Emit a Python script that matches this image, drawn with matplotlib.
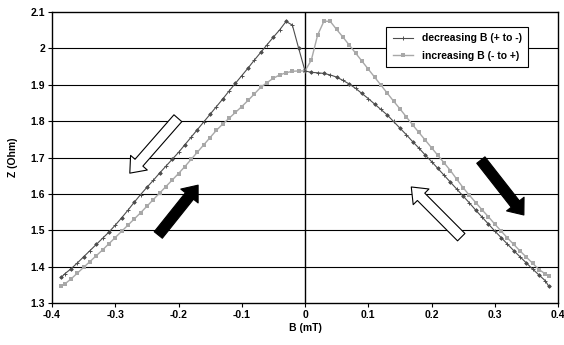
import matplotlib
matplotlib.use("Agg")
import matplotlib.pyplot as plt

plt.rcParams['font.family'] = ['Liberation Sans', 'DejaVu Sans']
plt.rcParams['font.weight'] = 'bold'

# decreasing B (+ to -) : field values and impedance
b_dec = [0.385, 0.38, 0.37, 0.36, 0.35, 0.34, 0.33, 0.32, 0.31, 0.30,
         0.29, 0.28, 0.27, 0.26, 0.25, 0.24, 0.23, 0.22, 0.21, 0.20,
         0.19, 0.18, 0.17, 0.16, 0.15, 0.14, 0.13, 0.12, 0.11, 0.10,
         0.09, 0.08, 0.07, 0.06, 0.05, 0.04, 0.03, 0.02, 0.01, 0.00,
         -0.01, -0.02, -0.03, -0.04, -0.05, -0.06, -0.07, -0.08, -0.09, -0.10,
         -0.11, -0.12, -0.13, -0.14, -0.15, -0.16, -0.17, -0.18, -0.19, -0.20,
         -0.21, -0.22, -0.23, -0.24, -0.25, -0.26, -0.27, -0.28, -0.29, -0.30,
         -0.31, -0.32, -0.33, -0.34, -0.35, -0.36, -0.37, -0.38, -0.385]
z_dec = [1.347, 1.361, 1.377, 1.393, 1.410, 1.427, 1.444, 1.462, 1.480, 1.498,
         1.517, 1.536, 1.555, 1.575, 1.594, 1.613, 1.632, 1.651, 1.670, 1.689,
         1.707, 1.726, 1.744, 1.763, 1.781, 1.799, 1.817, 1.832, 1.847, 1.862,
         1.876, 1.890, 1.902, 1.912, 1.921, 1.927, 1.931, 1.933, 1.934, 1.938,
         2.000, 2.064, 2.074, 2.051, 2.031, 2.010, 1.989, 1.968, 1.946, 1.925,
         1.904, 1.883, 1.861, 1.840, 1.819, 1.798, 1.777, 1.756, 1.735, 1.714,
         1.695, 1.676, 1.657, 1.637, 1.618, 1.598, 1.577, 1.555, 1.534, 1.514,
         1.495, 1.478, 1.461, 1.444, 1.427, 1.410, 1.394, 1.380, 1.371]

# increasing B (- to +)
b_inc = [-0.385, -0.38, -0.37, -0.36, -0.35, -0.34, -0.33, -0.32, -0.31, -0.30,
         -0.29, -0.28, -0.27, -0.26, -0.25, -0.24, -0.23, -0.22, -0.21, -0.20,
         -0.19, -0.18, -0.17, -0.16, -0.15, -0.14, -0.13, -0.12, -0.11, -0.10,
         -0.09, -0.08, -0.07, -0.06, -0.05, -0.04, -0.03, -0.02, -0.01, 0.00,
         0.01, 0.02, 0.03, 0.04, 0.05, 0.06, 0.07, 0.08, 0.09, 0.10,
         0.11, 0.12, 0.13, 0.14, 0.15, 0.16, 0.17, 0.18, 0.19, 0.20,
         0.21, 0.22, 0.23, 0.24, 0.25, 0.26, 0.27, 0.28, 0.29, 0.30,
         0.31, 0.32, 0.33, 0.34, 0.35, 0.36, 0.37, 0.38, 0.385]
z_inc = [1.347, 1.352, 1.366, 1.382, 1.398, 1.414, 1.430, 1.446, 1.463, 1.480,
         1.497, 1.514, 1.531, 1.548, 1.566, 1.584, 1.602, 1.620, 1.638, 1.656,
         1.675, 1.695, 1.715, 1.735, 1.755, 1.775, 1.792, 1.808, 1.824, 1.840,
         1.857, 1.875, 1.893, 1.906, 1.918, 1.927, 1.933, 1.937, 1.938, 1.938,
         1.968, 2.037, 2.075, 2.074, 2.052, 2.031, 2.009, 1.987, 1.965, 1.943,
         1.921, 1.899, 1.877, 1.855, 1.834, 1.812, 1.790, 1.769, 1.748, 1.727,
         1.706, 1.685, 1.664, 1.640, 1.617, 1.596, 1.576, 1.556, 1.537, 1.517,
         1.498, 1.479, 1.461, 1.443, 1.426, 1.409, 1.392, 1.380, 1.374]

x_ticks = [-0.4, -0.3, -0.2, -0.1, 0, 0.1, 0.2, 0.3, 0.4]
x_labels = ['-0.4', '-0.3', '-0.2', '-0.1', '0', '0.1', '0.2', '0.3', '0.4']
y_ticks = [1.3, 1.4, 1.5, 1.6, 1.7, 1.8, 1.9, 2.0, 2.1]
y_labels = ['1.3', '1.4', '1.5', '1.6', '1.7', '1.8', '1.9', '2', '2.1']

fig = plt.figure(figsize=(5.64, 3.45), dpi=100)
ax = fig.add_axes([0.0922, 0.1217, 0.8972, 0.8435])

for y in y_ticks[1:-1]:
    ax.axhline(y, color='black', lw=0.8, zorder=1)
ax.axvline(0, color='black', lw=1.0, zorder=1)

line_inc, = ax.plot(b_inc, z_inc, color='#a8a8a8', lw=1.0, marker='s', markersize=3.4,
                    markeredgewidth=0, label='increasing B (- to +)', zorder=3)
line_dec, = ax.plot(b_dec, z_dec, color='#4d4d4d', lw=0.8, marker='+', markersize=3.5,
                    markeredgewidth=0.7, label='decreasing B (+ to -)', zorder=4)
ax.plot(b_dec, z_dec, linestyle='none', marker='o', markersize=2.6, markevery=2,
        color='#4d4d4d', markeredgewidth=0, zorder=4)

# block arrows (tail -> head)
arrows = [((-0.201, 1.808), (-0.277, 1.657), 'white'),
          ((-0.232, 1.487), (-0.169, 1.624), 'black'),
          ((0.247, 1.481), (0.168, 1.619), 'white'),
          ((0.278, 1.693), (0.346, 1.542), 'black')]
for tail, head, fc in arrows:
    ax.annotate('', xy=head, xytext=tail,
                arrowprops=dict(arrowstyle='simple,head_width=1.6,head_length=1.0,tail_width=0.75',
                                mutation_scale=10, fc=fc, ec='black', lw=0.8,
                                shrinkA=0, shrinkB=0), zorder=5)

ax.set_xlim(-0.4, 0.4)
ax.set_ylim(1.3, 2.1)
ax.set_xticks(x_ticks)
ax.set_xticklabels(x_labels)
ax.set_yticks(y_ticks)
ax.set_yticklabels(y_labels)
ax.tick_params(axis='both', labelsize=7.5, length=3, width=0.8, pad=2, color='black')
for s in ax.spines.values():
    s.set_color('black')
    s.set_linewidth(1.0)

ax.set_xlabel('B (mT)', fontsize=7.5, fontweight='bold', labelpad=2)
ax.set_ylabel('Z (Ohm)', fontsize=7.5, fontweight='bold', labelpad=9)

leg = ax.legend(handles=[line_dec, line_inc], loc='upper right',
                bbox_to_anchor=(0.951, 0.966), fontsize=7.5, frameon=True,
                fancybox=False, framealpha=1, edgecolor='black',
                handlelength=2.0, borderpad=0.6, labelspacing=0.7)
leg.get_frame().set_linewidth(0.8)

fig.savefig('out.png', dpi=100)
